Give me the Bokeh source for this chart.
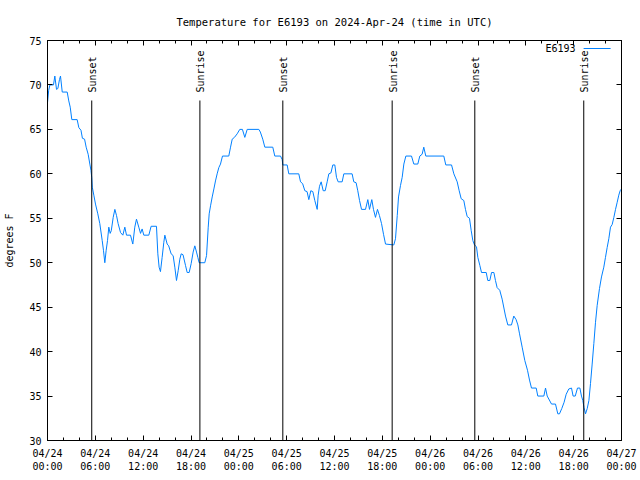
import numpy as np
import pandas as pd
from bokeh.plotting import figure
from bokeh.models import (DatetimeAxis, LinearAxis, FixedTicker, DatetimeTickFormatter,
                          Range1d, ColumnDataSource)
from bokeh.embed import file_html
from bokeh.resources import INLINE
from bokeh.core.properties import value

# ---------------- data ----------------
station = "E6193"
start_time = "2024-04-24 00:00"
title_text = "Temperature for E6193 on 2024-Apr-24 (time in UTC)"

# hours since 2024-04-24 00:00 UTC
hours = [0.0, 0.15, 0.3, 0.75, 0.92, 1.13, 1.3, 1.5, 1.63, 1.85, 2.47, 2.67, 2.85, 3.05, 3.72,
         3.93, 4.2, 4.38, 4.65, 4.85, 5.1, 5.31, 5.45, 5.55, 5.62, 5.81, 6.02, 6.31, 6.56, 6.86,
         7.02, 7.19, 7.36, 7.53, 7.69, 7.86, 8.0, 8.24, 8.45, 8.66, 8.86, 9.16, 9.45, 9.7, 9.91,
         10.41, 10.7, 10.95, 11.16, 11.45, 11.67, 11.87, 12.08, 12.71, 13.0, 13.67, 13.84, 14.0,
         14.17, 14.38, 14.59, 14.72, 15.01, 15.2, 15.51, 15.76, 15.97, 16.18, 16.39, 16.6, 16.77,
         17.0, 17.31, 17.52, 17.77, 18.02, 18.27, 18.48, 18.69, 18.86, 19.02, 19.73, 19.95, 20.16,
         20.28, 20.45, 20.66, 20.87, 21.07, 21.28, 21.49, 21.7, 21.95, 22.74, 22.96, 23.17, 23.45,
         23.79, 24.12, 24.45, 24.75, 25.05, 26.51, 26.7, 27.0, 27.26, 28.26, 28.51, 29.23, 29.44,
         29.52, 30.06, 30.27, 31.52, 31.74, 32.0, 32.28, 32.56, 32.78, 33.03, 33.28, 33.53, 33.83,
         33.95, 34.12, 34.33, 34.58, 34.83, 35.08, 35.29, 35.55, 35.79, 36.04, 36.25, 36.46, 36.96,
         37.17, 38.21, 38.42, 38.71, 38.92, 39.14, 39.39, 39.89, 40.18, 40.39, 40.68, 40.89, 41.14,
         41.39, 41.64, 41.9, 42.15, 42.4, 43.44, 43.65, 43.87, 44.03, 44.28, 44.49, 44.7, 44.95,
         45.66, 45.95, 46.45, 46.7, 46.99, 47.2, 47.45, 49.71, 49.96, 50.68, 50.97, 51.39, 51.64,
         51.89, 52.22, 52.43, 52.64, 52.93, 53.15, 53.35, 53.56, 53.81, 53.98, 54.23, 54.44, 55.03,
         55.23, 55.48, 55.7, 55.99, 56.19, 56.4, 56.73, 57.03, 57.45, 57.74, 58.2, 58.49, 58.78,
         59.0, 59.21, 59.54, 59.87, 60.21, 60.46, 60.71, 61.3, 61.5, 62.26, 62.47, 62.68, 63.22,
         63.72, 64.01, 64.22, 64.51, 64.8, 65.06, 65.39, 65.73, 65.93, 66.2, 66.48, 66.78, 66.98,
         67.15, 67.3, 67.49, 67.7, 67.91, 68.11, 68.32, 68.53, 68.74, 68.95, 69.24, 69.49, 69.78,
         69.99, 70.2, 70.41, 70.62, 70.83, 71.04, 71.25, 71.46, 71.66, 71.83, 72.0]

temps_f = [68.0, 69.4, 70.0, 70.0, 71.0, 69.5, 69.6, 70.6, 71.0, 69.2, 69.2, 68.2, 67.5, 66.1, 66.1,
           65.2, 64.9, 64.0, 63.9, 63.0, 62.2, 61.1, 60.4, 59.6, 58.5, 57.6, 56.6, 55.5, 54.4, 52.5,
           51.4, 50.0, 51.4, 52.5, 54.0, 53.3, 53.6, 55.1, 56.0, 55.3, 54.4, 53.4, 53.1, 54.0, 53.1,
           53.1, 52.1, 54.0, 54.9, 54.0, 53.3, 53.8, 53.1, 53.1, 54.1, 54.1, 51.0, 49.5,
           49.0, 50.6, 52.3, 53.1, 52.1, 51.9, 51.0, 50.8, 49.5, 48.0, 49.1, 50.4, 51.0,
           50.9, 49.7, 48.9, 48.9, 49.9, 51.2, 51.9, 51.2, 50.6, 50.0, 50.0, 50.8, 54.0,
           55.5, 56.4, 57.4, 58.3, 59.2, 60.0, 60.7, 61.1, 62.0, 62.0, 63.0, 63.9, 64.1,
           64.5, 65.0, 65.0, 64.1, 65.0, 65.0, 64.7, 63.9, 63.0, 63.0, 62.0, 62.0, 61.6,
           61.0, 61.0, 60.0, 60.0, 59.1, 58.9, 58.1, 58.0, 57.1, 58.1, 58.0, 57.0, 56.0,
           57.6, 58.6, 59.1, 58.1, 58.1, 59.1, 60.0, 60.1, 61.0, 61.0, 59.6, 59.1, 59.1,
           60.0, 60.0, 59.1, 59.0, 58.1, 57.0, 56.0, 56.0, 57.1, 56.0, 57.1, 56.0, 55.1,
           56.0, 55.3, 54.4, 53.2, 52.1, 52.0, 52.7, 55.3, 57.4, 58.7, 59.6, 61.1, 62.0,
           62.0, 61.1, 61.1, 62.0, 62.2, 63.0, 62.0, 62.0, 61.0, 61.0, 60.0, 59.1, 58.1,
           57.2, 57.0, 56.0, 55.2, 55.0, 53.6, 52.5, 52.0, 51.8, 50.6, 49.7, 48.9, 48.9,
           48.0, 48.0, 48.9, 48.9, 48.0, 47.2, 46.9, 45.9, 44.0, 43.0, 43.0, 44.0, 43.6,
           43.0, 42.0, 40.5, 39.0, 37.9, 36.8, 35.9, 35.9, 35.0, 35.0, 35.9, 35.0, 34.1,
           34.1, 33.0, 33.0, 33.6, 34.3, 35.2, 35.8, 35.9, 35.0, 35.0, 35.9, 35.9, 35.0,
           34.5, 33.7, 33.0, 33.6, 34.5, 36.4, 38.6, 40.9, 43.3, 45.2, 47.1, 48.4, 49.5,
           50.6, 51.7, 52.7, 54.0, 54.3, 55.1, 56.0, 56.8, 57.6, 58.1, 58.3]

sun_event_times = ["2024-04-24 05:33", "2024-04-24 19:07", "2024-04-25 05:31",
                   "2024-04-25 19:14", "2024-04-26 05:36", "2024-04-26 19:16"]
sun_event_labels = ["Sunset", "Sunrise", "Sunset", "Sunrise", "Sunset", "Sunrise"]

y_ticks = [30, 35, 40, 45, 50, 55, 60, 65, 70, 75]
x_major_step_hours = 6
x_minor_step_hours = 2
x_span_hours = 72

# ---------------- build ----------------
FONT = "DejaVu Sans Mono"
LINE_COLOR = "#0080ff"

t0 = pd.Timestamp(start_time)
times = [t0 + pd.Timedelta(hours=h) for h in hours]
x_start = t0
x_end = t0 + pd.Timedelta(hours=x_span_hours)
y_min, y_max = y_ticks[0], y_ticks[-1]


def to_ms(ts):
    return ts.value / 1e6


major_ticks = [to_ms(t0 + pd.Timedelta(hours=h)) for h in range(0, x_span_hours + 1, x_major_step_hours)]
minor_ticks = [to_ms(t0 + pd.Timedelta(hours=h)) for h in range(0, x_span_hours + 1, x_minor_step_hours)]

p = figure(width=640, height=480, output_backend="svg", toolbar_location=None,
           x_axis_type="datetime",
           x_range=Range1d(x_start, x_end), y_range=Range1d(y_min, y_max),
           min_border_left=47, min_border_right=19, min_border_top=40, min_border_bottom=40)
p.title.text = title_text
p.title.align = "center"
p.title.text_font = FONT
p.title.text_font_size = "10.5px"
p.title.text_font_style = "normal"
p.title.text_color = "black"
p.title.standoff = 25
p.grid.visible = False
p.outline_line_color = "black"
p.outline_line_width = 1
p.background_fill_color = "white"
p.border_fill_color = "white"

fmt = "%m/%d\n%H:%M"
formatter = DatetimeTickFormatter(microseconds=fmt, milliseconds=fmt, seconds=fmt, minsec=fmt,
                                  minutes=fmt, hourmin=fmt, hours=fmt, days=fmt, months=fmt,
                                  years=fmt)
xticker = FixedTicker(ticks=major_ticks, minor_ticks=minor_ticks)
yticker = FixedTicker(ticks=y_ticks)


def style_axis(ax, labels=True):
    ax.axis_line_color = "black"
    ax.major_tick_line_color = "black"
    ax.minor_tick_line_color = "black"
    ax.major_tick_in = 5
    ax.major_tick_out = 0
    ax.minor_tick_in = 3
    ax.minor_tick_out = 0
    if labels:
        ax.major_label_text_font = FONT
        ax.major_label_text_font_size = "10px"
        ax.major_label_text_color = "black"
    else:
        ax.major_label_text_font_size = "0px"
        ax.major_label_text_color = None
        ax.major_label_text_alpha = 0
        ax.major_label_standoff = 0


xa = p.xaxis[0]
xa.ticker = xticker
xa.formatter = formatter
style_axis(xa)
xa.major_label_standoff = 7

ya = p.yaxis[0]
ya.ticker = yticker
style_axis(ya)
ya.major_label_standoff = 6
ya.axis_label = "degrees F"
ya.axis_label_text_font = FONT
ya.axis_label_text_font_size = "10px"
ya.axis_label_text_font_style = "normal"
ya.axis_label_text_color = "black"
ya.axis_label_standoff = 11

top_axis = DatetimeAxis(ticker=xticker, formatter=formatter)
style_axis(top_axis, labels=False)
p.add_layout(top_axis, "above")

right_axis = LinearAxis(ticker=yticker)
style_axis(right_axis, labels=False)
p.add_layout(right_axis, "right")

# temperature line
src = ColumnDataSource(dict(t=times, temp=temps_f))
p.line("t", "temp", source=src, line_color=LINE_COLOR, line_width=1)

# sunrise / sunset markers
sun_times = [pd.Timestamp(s) for s in sun_event_times]
marker_top = y_min + 0.85 * (y_max - y_min)
sun_src = ColumnDataSource(dict(t=sun_times, y0=[y_min] * len(sun_times),
                                y1=[marker_top] * len(sun_times), label=sun_event_labels))
p.segment(x0="t", y0="y0", x1="t", y1="y1", source=sun_src, line_color="black", line_width=1)
p.text(x="t", y="y1", text="label", source=sun_src, angle=np.pi / 2,
       text_align="left", text_baseline="middle", x_offset=1, y_offset=-8,
       text_font=value(FONT), text_font_size="10px", text_color="black")

# key (gnuplot style: text then line sample)
span_ms = to_ms(x_end) - to_ms(x_start)
key_y = y_min + 0.98 * (y_max - y_min)
key_x0 = pd.Timestamp(to_ms(x_start) + 0.934 * span_ms, unit="ms")
key_x1 = pd.Timestamp(to_ms(x_start) + 0.981 * span_ms, unit="ms")
key_tx = pd.Timestamp(to_ms(x_start) + 0.920 * span_ms, unit="ms")
p.segment(x0=[key_x0], y0=[key_y], x1=[key_x1], y1=[key_y], line_color=LINE_COLOR, line_width=1)
p.text(x=[key_tx], y=[key_y], text=[station], text_align="right", text_baseline="middle",
       text_font=value(FONT), text_font_size="10px", text_color="black")

open("out.html", "w").write(file_html(p, INLINE))
